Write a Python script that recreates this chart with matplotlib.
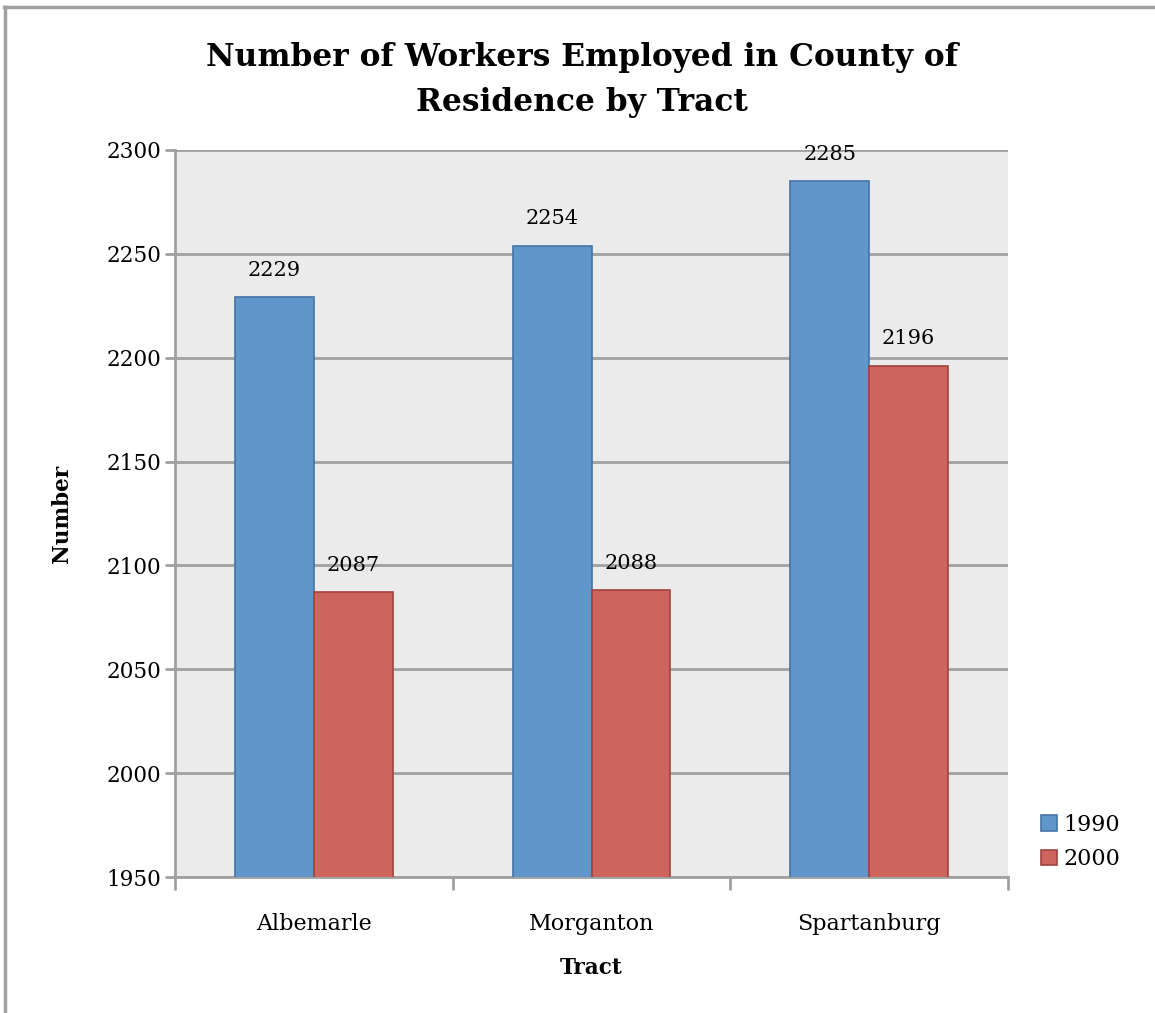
import numpy as np
import matplotlib.pyplot as plt
from matplotlib.lines import Line2D
from matplotlib.patches import Patch

tracts = ["Albemarle", "Morganton", "Spartanburg"]
workers_1990 = [2229, 2254, 2285]
workers_2000 = [2087, 2088, 2196]
yticks = [1950, 2000, 2050, 2100, 2150, 2200, 2250, 2300]

plt.rcParams["font.family"] = ["DejaVu Serif"]

W, H = 1155, 1013
fig = plt.figure(figsize=(W / 100, H / 100), dpi=100)
ax = fig.add_axes([175 / W, 1 - 877 / H, (1008 - 175) / W, (877 - 150) / H])

grid_col = "#a0a0a0"
blue, blue_edge = "#6096c9", "#4573a8"
red, red_edge = "#cc655e", "#a3423e"

x = np.arange(len(tracts))
bw = 0.284
b1 = ax.bar(x - bw / 2, workers_1990, bw, color=blue, edgecolor=blue_edge,
            linewidth=1.2, zorder=3)
b2 = ax.bar(x + bw / 2, workers_2000, bw, color=red, edgecolor=red_edge,
            linewidth=1.2, zorder=3)

# value labels above each bar
for bars, vals in ((b1, workers_1990), (b2, workers_2000)):
    for r, v in zip(bars, vals):
        ax.text(r.get_x() + r.get_width() / 2, v + 8.5, str(v), ha="center",
                va="bottom", fontsize=15, zorder=4)

ax.set_xlim(-0.5, 2.5)
ax.set_ylim(1950, 2300)
ax.set_yticks(yticks)
ax.set_facecolor("#ebebeb")
ax.grid(axis="y", color=grid_col, linewidth=2, zorder=0)
ax.set_axisbelow(True)

ax.set_xticks(x)
ax.set_xticklabels(tracts, fontsize=16)
ax.set_xticks([-0.5, 0.5, 1.5, 2.5], minor=True)
ax.tick_params(axis="x", which="major", length=0, pad=26)
ax.tick_params(axis="x", which="minor", length=9, width=2, color=grid_col)
ax.tick_params(axis="y", length=7, width=2, color=grid_col, labelsize=15.5, pad=3)

for side in ("top", "right"):
    ax.spines[side].set_visible(False)
for side in ("left", "bottom"):
    ax.spines[side].set_color(grid_col)
    ax.spines[side].set_linewidth(2)

ax.set_ylabel("Number", fontsize=15.5, fontweight="bold", labelpad=24)
ax.set_xlabel("Tract", fontsize=15.5, fontweight="bold", labelpad=16)

fig.text(582 / W, 1 - 80 / H, "Number of Workers Employed in County of\nResidence by Tract",
         ha="center", va="center", fontsize=22.5, fontweight="bold", linespacing=1.6)

handles = [Patch(facecolor=blue, edgecolor=blue_edge, linewidth=1.2),
           Patch(facecolor=red, edgecolor=red_edge, linewidth=1.2)]
fig.legend(handles, ["1990", "2000"], loc="center left",
           bbox_to_anchor=(1041 / W, 1 - 842 / H), frameon=False, fontsize=16,
           handlelength=0.7, handleheight=0.7, handletextpad=0.3,
           labelspacing=0.55, borderpad=0, borderaxespad=0)

# outer chart frame
fig.add_artist(Line2D([4 / W, 1], [1 - 7 / H, 1 - 7 / H], color="#a0a0a0", linewidth=2.5,
                      transform=fig.transFigure))
fig.add_artist(Line2D([5 / W, 5 / W], [0, 1 - 7 / H], color="#a0a0a0", linewidth=2.5,
                      transform=fig.transFigure))

fig.savefig("out.png", dpi=100)
